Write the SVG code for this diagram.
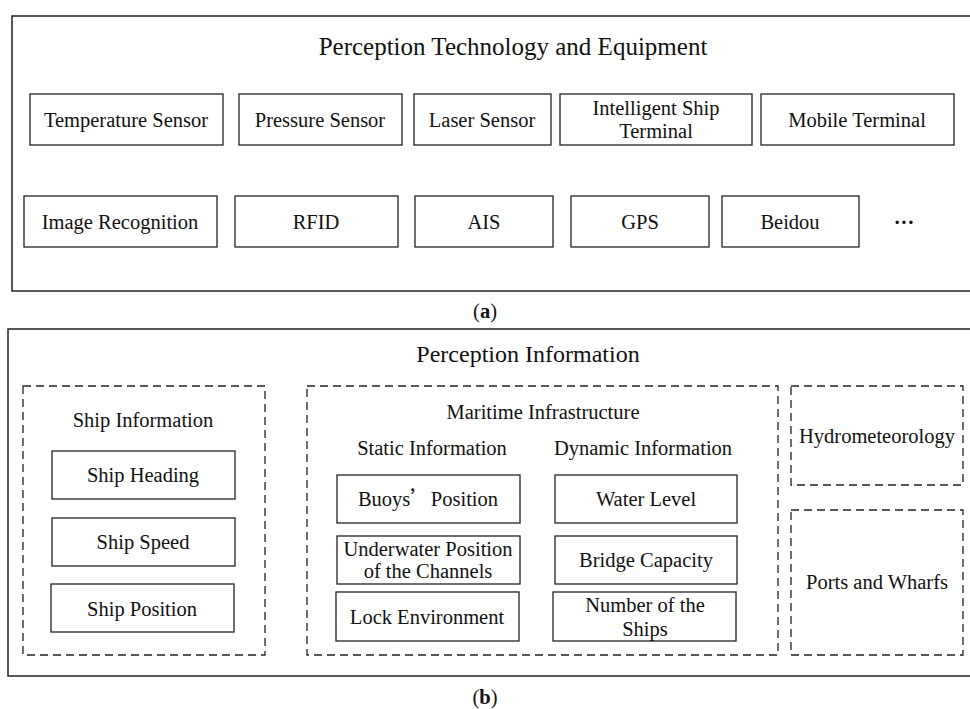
<svg xmlns="http://www.w3.org/2000/svg" width="970" height="709" viewBox="0 0 970 709">
<style>
text{font-family:"Liberation Serif","Times New Roman",serif;fill:#111;text-anchor:middle}
.t{font-size:20.5px}
.h{font-size:25px}
.b{fill:#fff;stroke:#222;stroke-width:1.3}
.o{fill:none;stroke:#222;stroke-width:1.5}
.d{fill:none;stroke:#222;stroke-width:1.3;stroke-dasharray:8,5}
</style>
<rect width="970" height="709" fill="#fff"/>
<g id="panel-a">
<rect class="o" x="12" y="16" width="962" height="275"/>
<text class="h" x="513" y="55">Perception Technology and Equipment</text>
</g>
<g id="temperature-sensor"><rect class="b" x="30" y="94" width="193" height="51"/><text class="t" x="126" y="127">Temperature Sensor</text></g>
<g id="pressure-sensor"><rect class="b" x="239" y="94" width="163" height="51"/><text class="t" x="320" y="127">Pressure Sensor</text></g>
<g id="laser-sensor"><rect class="b" x="414" y="94" width="137" height="51"/><text class="t" x="482" y="127">Laser Sensor</text></g>
<g id="intelligent-ship-terminal"><rect class="b" x="560" y="94" width="192" height="51"/><text class="t" x="656" y="115">Intelligent Ship</text><text class="t" x="656" y="138">Terminal</text></g>
<g id="mobile-terminal"><rect class="b" x="761" y="94" width="193" height="51"/><text class="t" x="857" y="127">Mobile Terminal</text></g>
<g id="image-recognition"><rect class="b" x="24" y="196" width="193" height="51"/><text class="t" x="120" y="229">Image Recognition</text></g>
<g id="rfid"><rect class="b" x="235" y="196" width="163" height="51"/><text class="t" x="316" y="229">RFID</text></g>
<g id="ais"><rect class="b" x="415" y="196" width="138" height="51"/><text class="t" x="484" y="229">AIS</text></g>
<g id="gps"><rect class="b" x="571" y="196" width="138" height="51"/><text class="t" x="640" y="229">GPS</text></g>
<g id="beidou"><rect class="b" x="722" y="196" width="137" height="51"/><text class="t" x="790" y="229">Beidou</text></g>
<g id="more"><text class="t" x="904" y="229" style="font-weight:bold">···</text></g>
<g id="label-a"><text class="t" x="485" y="318">(<tspan font-weight="bold">a</tspan>)</text></g>

<g id="panel-b">
<rect class="o" x="8" y="329" width="966" height="347"/>
<text class="h" x="528" y="362" style="font-size:24px">Perception Information</text>
</g>
<g id="ship-information">
<rect class="d" x="23" y="386" width="242" height="269"/>
<text class="t" x="143" y="427">Ship Information</text>
</g>
<g id="ship-heading"><rect class="b" x="52" y="451" width="183" height="48"/><text class="t" x="143" y="482">Ship Heading</text></g>
<g id="ship-speed"><rect class="b" x="52" y="518" width="183" height="48"/><text class="t" x="143" y="549">Ship Speed</text></g>
<g id="ship-position"><rect class="b" x="51" y="584" width="183" height="48"/><text class="t" x="142" y="616">Ship Position</text></g>
<g id="maritime-infrastructure">
<rect class="d" x="307" y="386" width="471" height="269"/>
<text class="t" x="543" y="419">Maritime Infrastructure</text>
<text class="t" x="432" y="455">Static Information</text>
<text class="t" x="643" y="455">Dynamic Information</text>
</g>
<g id="buoys-position"><rect class="b" x="337" y="475" width="183" height="48"/><text class="t" x="428" y="506">Buoys<tspan font-family="'Noto Sans CJK SC',sans-serif">’</tspan>Position</text></g>
<g id="underwater-position"><rect class="b" x="337" y="536" width="183" height="48"/><text class="t" x="428" y="556">Underwater Position</text><text class="t" x="428" y="578">of the Channels</text></g>
<g id="lock-environment"><rect class="b" x="336" y="592" width="183" height="49"/><text class="t" x="427" y="624">Lock Environment</text></g>
<g id="water-level"><rect class="b" x="555" y="475" width="182" height="48"/><text class="t" x="646" y="506">Water Level</text></g>
<g id="bridge-capacity"><rect class="b" x="555" y="536" width="182" height="48"/><text class="t" x="646" y="567">Bridge Capacity</text></g>
<g id="number-of-ships"><rect class="b" x="553" y="592" width="183" height="49"/><text class="t" x="645" y="612">Number of the</text><text class="t" x="645" y="636">Ships</text></g>
<g id="hydrometeorology"><rect class="d" x="791" y="386" width="172" height="99"/><text class="t" x="877" y="443">Hydrometeorology</text></g>
<g id="ports-and-wharfs"><rect class="d" x="791" y="510" width="172" height="145"/><text class="t" x="877" y="589">Ports and Wharfs</text></g>
<g id="label-b"><text class="t" x="485" y="704">(<tspan font-weight="bold">b</tspan>)</text></g>
<g id="connectors"></g>
</svg>
